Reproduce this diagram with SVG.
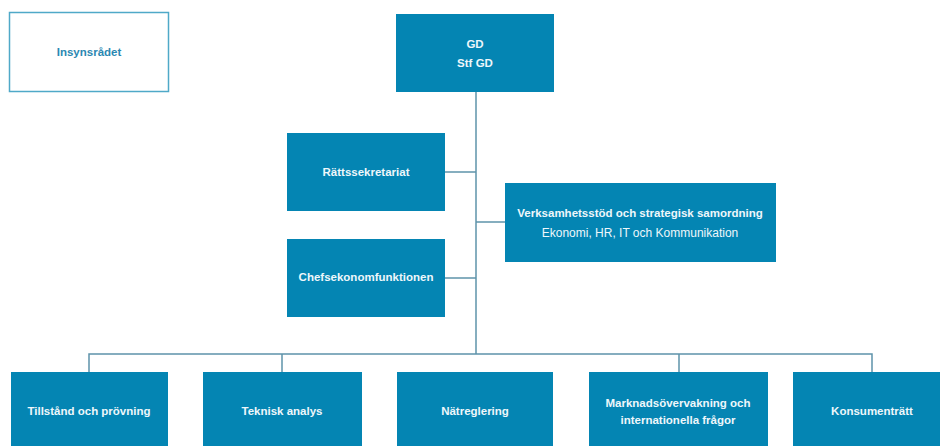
<svg xmlns="http://www.w3.org/2000/svg" width="940" height="446" viewBox="0 0 940 446">
<style>
.box{fill:#0485b3}
.t{font-family:"Liberation Sans",Arial,sans-serif;font-size:11.5px;font-weight:bold;fill:#eef7fb;text-anchor:middle;dominant-baseline:central}
.r{font-weight:normal;font-size:12px}
.ln{stroke:#5e93aa;stroke-width:1.5;fill:none}
</style>
<rect width="940" height="446" fill="#ffffff"/>
<g id="connectors">
<path class="ln" d="M476 92 V354"/>
<path class="ln" d="M445 172 H476"/>
<path class="ln" d="M445 278 H476"/>
<path class="ln" d="M476 222 H505"/>
<path class="ln" d="M89 372 V354 H872 V372"/>
<path class="ln" d="M282 354 V372"/>
<path class="ln" d="M679 354 V372"/>
</g>
<g id="insynsradet">
<rect x="9.5" y="12.5" width="159" height="79" fill="#ffffff" stroke="#4fa9c8" stroke-width="1.5"/>
<text class="t" x="89" y="52" style="fill:#2b88b2;font-size:11.5px">Insynsrådet</text>
</g>
<g id="gd">
<rect class="box" x="396" y="14" width="158" height="78"/>
<text class="t" x="475" y="44">GD</text>
<text class="t" x="475" y="63">Stf GD</text>
</g>
<g id="rattssekretariat">
<rect class="box" x="287" y="133" width="158" height="78"/>
<text class="t" x="366" y="172">Rättssekretariat</text>
</g>
<g id="chefsekonomfunktionen">
<rect class="box" x="287" y="239" width="158" height="78"/>
<text class="t" x="366" y="277">Chefsekonomfunktionen</text>
</g>
<g id="verksamhetsstod">
<rect class="box" x="505" y="183" width="271" height="79"/>
<text class="t" x="640" y="213">Verksamhetsstöd och strategisk samordning</text>
<text class="t r" x="640" y="233">Ekonomi, HR, IT och Kommunikation</text>
</g>
<g id="tillstand">
<rect class="box" x="11" y="372" width="157" height="80"/>
<text class="t" x="89" y="411">Tillstånd och prövning</text>
</g>
<g id="teknisk">
<rect class="box" x="203" y="372" width="159" height="80"/>
<text class="t" x="282" y="411">Teknisk analys</text>
</g>
<g id="natreglering">
<rect class="box" x="397" y="372" width="156" height="80"/>
<text class="t" x="475" y="411">Nätreglering</text>
</g>
<g id="marknad">
<rect class="box" x="589" y="372" width="179" height="80"/>
<text class="t" x="678" y="403">Marknadsövervakning och</text>
<text class="t" x="678" y="420">internationella frågor</text>
</g>
<g id="konsumentratt">
<rect class="box" x="793" y="372" width="160" height="80"/>
<text class="t" x="872" y="411">Konsumenträtt</text>
</g>
</svg>
